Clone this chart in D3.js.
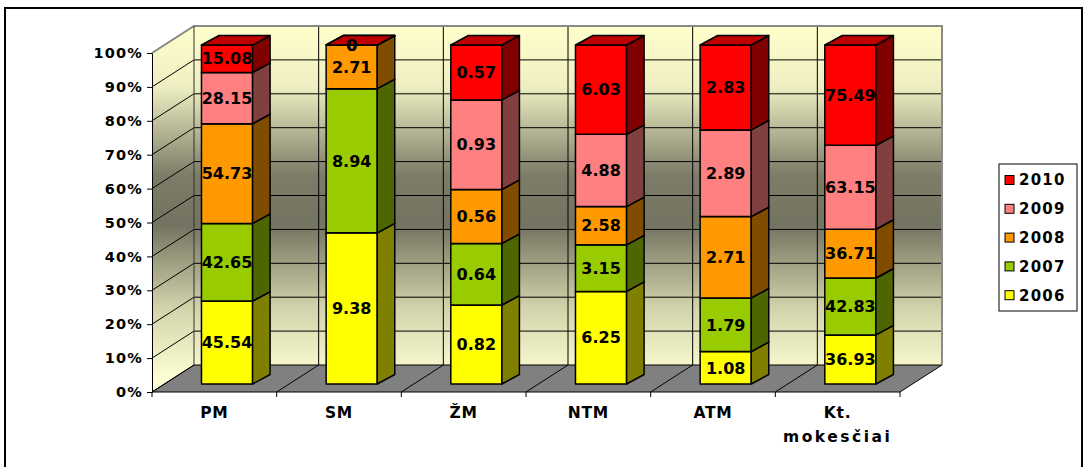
<!DOCTYPE html>
<html>
<head>
<meta charset="utf-8">
<script src="https://cdn.jsdelivr.net/npm/d3@7"></script>
<style>
  body { margin: 0; background: #fff; }
  text { font-family: "DejaVu Sans", Arial, sans-serif; font-weight: bold; fill: #000; }
</style>
</head>
<body>
<svg id="chart" width="1085" height="467"></svg>
<script>
// data
var categories = ["PM", "SM", "ŽM", "NTM", "ATM", "Kt. mokesčiai"];
var years = ["2006", "2007", "2008", "2009", "2010"];
var v2006 = [45.54, 9.38, 0.82, 6.25, 1.08, 36.93];
var v2007 = [42.65, 8.94, 0.64, 3.15, 1.79, 42.83];
var v2008 = [54.73, 2.71, 0.56, 2.58, 2.71, 36.71];
var v2009 = [28.15, 0, 0.93, 4.88, 2.89, 63.15];
var v2010 = [15.08, 0, 0.57, 6.03, 2.83, 75.49];
var yearColors = ["#FFFF00", "#99CC00", "#FF9900", "#FF8080", "#FF0000"];
var yTicks = [0, 0.1, 0.2, 0.3, 0.4, 0.5, 0.6, 0.7, 0.8, 0.9, 1];

var seriesVals = [v2006, v2007, v2008, v2009, v2010];

var svg = d3.select("#chart");

// 3d look: depth of the walls and of the bars
var wall = { dx: 42, dy: 27 };
var barOff = { dx: 12.7, dy: 8 };
var barDepth = { dx: 17.5, dy: 9.5 };

var x = d3.scaleBand().domain(categories).range([152, 900]);
var xb = d3.scaleBand().domain(categories).range([152, 900]).paddingInner(0.59).paddingOuter(0.295);
var y = d3.scaleLinear().domain([0, 1]).range([392, 53]);

function shade(c, k) {
    var r = d3.rgb(c);
    return d3.rgb(r.r * k, r.g * k, r.b * k).formatHex();
}
function poly(pts) { return "M" + pts.map(function (p) { return p.join(","); }).join("L") + "Z"; }

// outer frame
svg.append("rect").attr("x", 5).attr("y", 8).attr("width", 1077).attr("height", 480)
    .attr("fill", "#fff").attr("stroke", "#000").attr("stroke-width", 2);

// wall gradient
var defs = svg.append("defs");
var grad = defs.append("linearGradient").attr("id", "wallg")
    .attr("gradientUnits", "userSpaceOnUse").attr("x1", 0).attr("x2", 0).attr("y1", 27).attr("y2", 380);
[[0, "#FFFFCC"], [0.17, "#EEEEC2"], [0.42, "#7C7C68"], [0.56, "#737361"], [0.8, "#D4D4AC"], [1, "#FFFFD6"]].forEach(function (s) {
    grad.append("stop").attr("offset", s[0]).attr("stop-color", s[1]);
});

var x0 = x.range()[0], x1 = x.range()[1];
var yTop = y(1), yBot = y(0);

// left wall
svg.append("path").attr("d", poly([[x0, yBot], [x0, yTop], [x0 + wall.dx, yTop - wall.dy], [x0 + wall.dx, yBot - wall.dy]]))
    .attr("fill", "url(#wallg)");
// back wall
svg.append("rect").attr("x", x0 + wall.dx).attr("y", yTop - wall.dy)
    .attr("width", x1 - x0).attr("height", yBot - yTop).attr("fill", "url(#wallg)");
// floor
svg.append("path").attr("d", poly([[x0, yBot], [x1, yBot], [x1 + wall.dx, yBot - wall.dy], [x0 + wall.dx, yBot - wall.dy]]))
    .attr("fill", "#808080");

var grid = svg.append("g").attr("stroke", "#000").attr("stroke-width", 1).attr("fill", "none");
yTicks.forEach(function (t) {
    var yy = y(t);
    grid.append("line").attr("x1", x0).attr("y1", yy).attr("x2", x0 + wall.dx).attr("y2", yy - wall.dy);
    if (t < 1)
        grid.append("line").attr("x1", x0 + wall.dx).attr("y1", yy - wall.dy).attr("x2", x1 + wall.dx).attr("y2", yy - wall.dy);
});
var bounds = categories.map(function (c) { return x(c); }).concat([x1]);
bounds.forEach(function (b, i) {
    grid.append("line").attr("x1", b).attr("y1", yBot).attr("x2", b + wall.dx).attr("y2", yBot - wall.dy);
    grid.append("line").attr("x1", b).attr("y1", yBot).attr("x2", b).attr("y2", yBot + 5);
    if (i > 0 && i < bounds.length - 1)
        grid.append("line").attr("x1", b + wall.dx).attr("y1", yTop - wall.dy).attr("x2", b + wall.dx).attr("y2", yBot - wall.dy);
});
grid.append("line").attr("x1", x0).attr("y1", yBot).attr("x2", x1).attr("y2", yBot);
// grey wall edges
var edge = svg.append("g").attr("stroke", "#8a8a8a").attr("stroke-width", 2).attr("fill", "none");
edge.append("path").attr("d", "M" + x0 + "," + yTop + "L" + (x0 + wall.dx) + "," + (yTop - wall.dy) +
    "L" + (x1 + wall.dx) + "," + (yTop - wall.dy) + "L" + (x1 + wall.dx) + "," + (yBot - wall.dy));
svg.append("line").attr("x1", x0 + wall.dx).attr("y1", yTop - wall.dy).attr("x2", x0 + wall.dx).attr("y2", yBot - wall.dy)
    .attr("stroke", "#333").attr("stroke-width", 1);

// y axis
var yAxis = svg.append("g").attr("transform", "translate(" + x0 + ",0)")
    .call(d3.axisLeft(y).tickValues(yTicks).tickFormat(d3.format(".0%")).tickSize(5).tickSizeOuter(0).tickPadding(4));
yAxis.selectAll("path, line").attr("stroke", "#000");
yAxis.selectAll("text").attr("font-size", 14.5).attr("letter-spacing", "1.2px")
    .style("font-family", "DejaVu Sans").style("font-weight", "bold").attr("fill", "#000");

// stacked bars
var bw = xb.bandwidth();
var bars = svg.append("g").attr("stroke", "#000").attr("stroke-width", 1.5).attr("stroke-linejoin", "round");
var labels = svg.append("g").attr("text-anchor", "middle").attr("font-size", 16);
categories.forEach(function (c, i) {
    var total = d3.sum(seriesVals, function (s) { return s[i]; });
    var acc = 0;
    var xl = xb(c) + barOff.dx, xr = xl + bw;
    seriesVals.forEach(function (s, k) {
        var lo = acc / total, hi = (acc + s[i]) / total;
        acc += s[i];
        var yb = y(lo) - barOff.dy, yt = y(hi) - barOff.dy;
        var col = yearColors[k];
        bars.append("rect").attr("x", xl).attr("y", yt).attr("width", bw).attr("height", yb - yt).attr("fill", col);
        bars.append("path").attr("d", poly([[xr, yb], [xr + barDepth.dx, yb - barDepth.dy], [xr + barDepth.dx, yt - barDepth.dy], [xr, yt]]))
            .attr("fill", shade(col, 0.5));
        bars.append("path").attr("d", poly([[xl, yt], [xr, yt], [xr + barDepth.dx, yt - barDepth.dy], [xl + barDepth.dx, yt - barDepth.dy]]))
            .attr("fill", shade(col, 0.75));
        labels.append("text").attr("x", (xl + xr) / 2).attr("y", (yt + yb) / 2).attr("dy", "0.36em").text(s[i]);
    });
});

// category labels
var catG = svg.append("g").attr("text-anchor", "middle").attr("font-size", 15.5);
categories.forEach(function (c) {
    var parts = c.split(" ");
    var t = catG.append("text").attr("x", x(c) + x.bandwidth() / 2).attr("y", 418);
    parts.forEach(function (p, j) {
        t.append("tspan").attr("x", x(c) + x.bandwidth() / 2).attr("dy", j ? 24 : 0)
            .attr("letter-spacing", j ? "2.5px" : "0.8px").text(p);
    });
});

// legend
var lg = svg.append("g").attr("transform", "translate(999,164)");
lg.append("rect").attr("width", 78).attr("height", 147).attr("fill", "#fff").attr("stroke", "#000").attr("stroke-width", 1);
years.slice().reverse().forEach(function (yr, j) {
    var k = years.length - 1 - j;
    var cy = 16 + j * 28.8;
    lg.append("rect").attr("x", 6).attr("y", cy - 4.5).attr("width", 9).attr("height", 9)
        .attr("fill", yearColors[k]).attr("stroke", "#000").attr("stroke-width", 1);
    lg.append("text").attr("x", 20).attr("y", cy).attr("dy", "0.36em").attr("font-size", 15)
        .attr("letter-spacing", "1.2px").text(yr);
});
</script>
</body>
</html>
